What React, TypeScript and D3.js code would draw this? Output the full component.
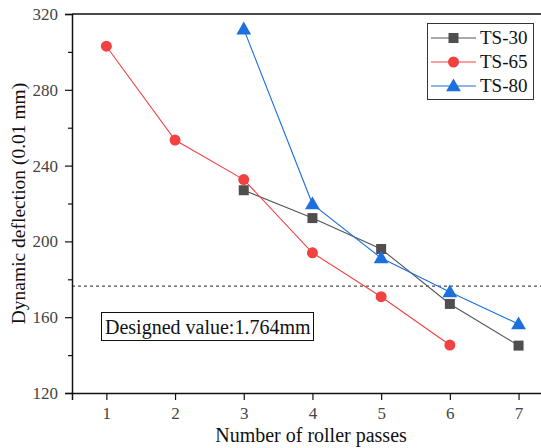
import React, { useRef, useEffect } from 'react';
import * as d3 from 'd3';

// data
const passes30 = [3, 4, 5, 6, 7];
const values30 = [227, 212.3, 196, 167, 145];
const passes65 = [1, 2, 3, 4, 5, 6];
const values65 = [303, 253.5, 232.6, 194, 170.8, 145.3];
const passes80 = [3, 4, 5, 6, 7];
const values80 = [312, 219.7, 191.2, 173.3, 156.4];
const seriesNames = ['TS-30', 'TS-65', 'TS-80'];
const xTicks = [1, 2, 3, 4, 5, 6, 7];
const yTicks = [120, 160, 200, 240, 280, 320];
const yMinorTicks = [140, 180, 220, 260, 300];
const designValue = 176.4;

const App = () => {
  const ref = useRef<HTMLDivElement>(null);

  useEffect(() => {
    const width = 541;
    const height = 448;
    const left = 72;
    const top = 14;
    const bottom = 393;
    const font = 'Liberation Serif';

    const root = d3.select(ref.current);
    root.selectAll('*').remove();
    const svg = root
      .append('svg')
      .attr('width', width)
      .attr('height', height)
      .style('position', 'absolute')
      .style('left', 0)
      .style('top', 0)
      .style('background', '#fff');

    // x: 0.5 .. 7.5, right edge is cut off like the picture
    const x = d3.scaleLinear().domain([0.5, 7.5]).range([left, left + 7 * 68.7]);
    const y = d3.scaleLinear().domain([120, 320]).range([bottom, top]);

    const series = [
      { name: seriesNames[0], xs: passes30, ys: values30, color: '#4f4f4f', line: '#555', shape: 'square' },
      { name: seriesNames[1], xs: passes65, ys: values65, color: '#f24141', line: '#f24141', shape: 'circle' },
      { name: seriesNames[2], xs: passes80, ys: values80, color: '#1e6fde', line: '#1e6fde', shape: 'triangle' },
    ];

    // dashed design line
    svg.append('line')
      .attr('x1', left).attr('x2', width)
      .attr('y1', y(designValue)).attr('y2', y(designValue))
      .attr('stroke', '#222').attr('stroke-width', 1)
      .attr('stroke-dasharray', '3,3');

    const lineGen = d3.line<[number, number]>().x(d => x(d[0])).y(d => y(d[1]));

    const drawMarker = (g: any, shape: string, cx: number, cy: number, color: string) => {
      if (shape === 'square') {
        g.append('rect').attr('x', cx - 5).attr('y', cy - 5).attr('width', 10).attr('height', 10).attr('fill', color);
      } else if (shape === 'circle') {
        g.append('circle').attr('cx', cx).attr('cy', cy).attr('r', 5.5).attr('fill', color);
      } else {
        const s = d3.symbol(d3.symbolTriangle, 95)();
        g.append('path').attr('d', s).attr('transform', `translate(${cx},${cy + 1})`).attr('fill', color);
      }
    };

    series.forEach(s => {
      const pts = s.xs.map((v, i) => [v, s.ys[i]] as [number, number]);
      svg.append('path')
        .attr('d', lineGen(pts))
        .attr('fill', 'none')
        .attr('stroke', s.line)
        .attr('stroke-width', 1.1);
      const mg = svg.append('g');
      pts.forEach(p => drawMarker(mg, s.shape, x(p[0]), y(p[1]), s.color));
    });

    // axes
    const yAxis = d3.axisLeft(y).tickValues(yTicks).tickSize(7).tickPadding(7).tickFormat(d3.format('d'));
    const yg = svg.append('g').attr('transform', `translate(${left},0)`).call(yAxis);
    const yMinor = d3.axisLeft(y).tickValues(yMinorTicks).tickSize(4).tickFormat(() => '');

    const xAxis = d3.axisBottom(x).tickValues(xTicks).tickSize(7).tickPadding(7).tickFormat(d3.format('d'));
    const xg = svg.append('g').attr('transform', `translate(0,${bottom})`).call(xAxis);

    [yg, xg].forEach(g => {
      g.attr('font-family', font);
      g.select('.domain').attr('stroke', '#111').attr('stroke-width', 1.5);
      g.selectAll('.tick line').attr('stroke', '#111').attr('stroke-width', 1.2);
      g.selectAll('.tick text').attr('font-family', font).attr('font-size', 17).attr('fill', '#444');
    });
    svg.append('g').attr('transform', `translate(${left},0)`).call(yMinor)
      .call(g => g.select('.domain').remove())
      .selectAll('.tick line').attr('stroke', '#111').attr('stroke-width', 1.2);

    // top frame
    svg.append('line')
      .attr('x1', left).attr('x2', width).attr('y1', top).attr('y2', top)
      .attr('stroke', '#111').attr('stroke-width', 1.5);

    // axis titles
    svg.append('text')
      .attr('x', 311).attr('y', 442)
      .attr('text-anchor', 'middle')
      .attr('font-family', font).attr('font-size', 20).attr('fill', '#111')
      .text('Number of roller passes');
    svg.append('text')
      .attr('transform', `translate(25,203.5) rotate(-90)`)
      .attr('text-anchor', 'middle')
      .attr('font-family', font).attr('font-size', 19.5).attr('fill', '#111')
      .text('Dynamic deflection (0.01 mm)');

    // annotation
    svg.append('rect')
      .attr('x', 101.5).attr('y', 312.5).attr('width', 212).attr('height', 28)
      .attr('fill', '#fff').attr('stroke', '#111').attr('stroke-width', 1);
    svg.append('text')
      .attr('x', 105).attr('y', 334)
      .attr('font-family', font).attr('font-size', 20).attr('fill', '#111')
      .text('Designed value:1.764mm');

    // legend
    const lg = svg.append('g');
    lg.append('rect')
      .attr('x', 427.5).attr('y', 23.5).attr('width', 106).attr('height', 76)
      .attr('fill', '#fff').attr('stroke', '#333').attr('stroke-width', 1);
    series.forEach((s, i) => {
      const cy = 38 + i * 24;
      lg.append('line').attr('x1', 431).attr('x2', 476).attr('y1', cy).attr('y2', cy)
        .attr('stroke', s.line).attr('stroke-width', 1.1);
      drawMarker(lg, s.shape, 453.5, cy, s.color);
      lg.append('text')
        .attr('x', 480).attr('y', cy + 6)
        .attr('font-family', font).attr('font-size', 19).attr('fill', '#111')
        .text(s.name);
    });
  }, []);

  return <div ref={ref} style={{ width: 541, height: 448 }} />;
};

export default App;
